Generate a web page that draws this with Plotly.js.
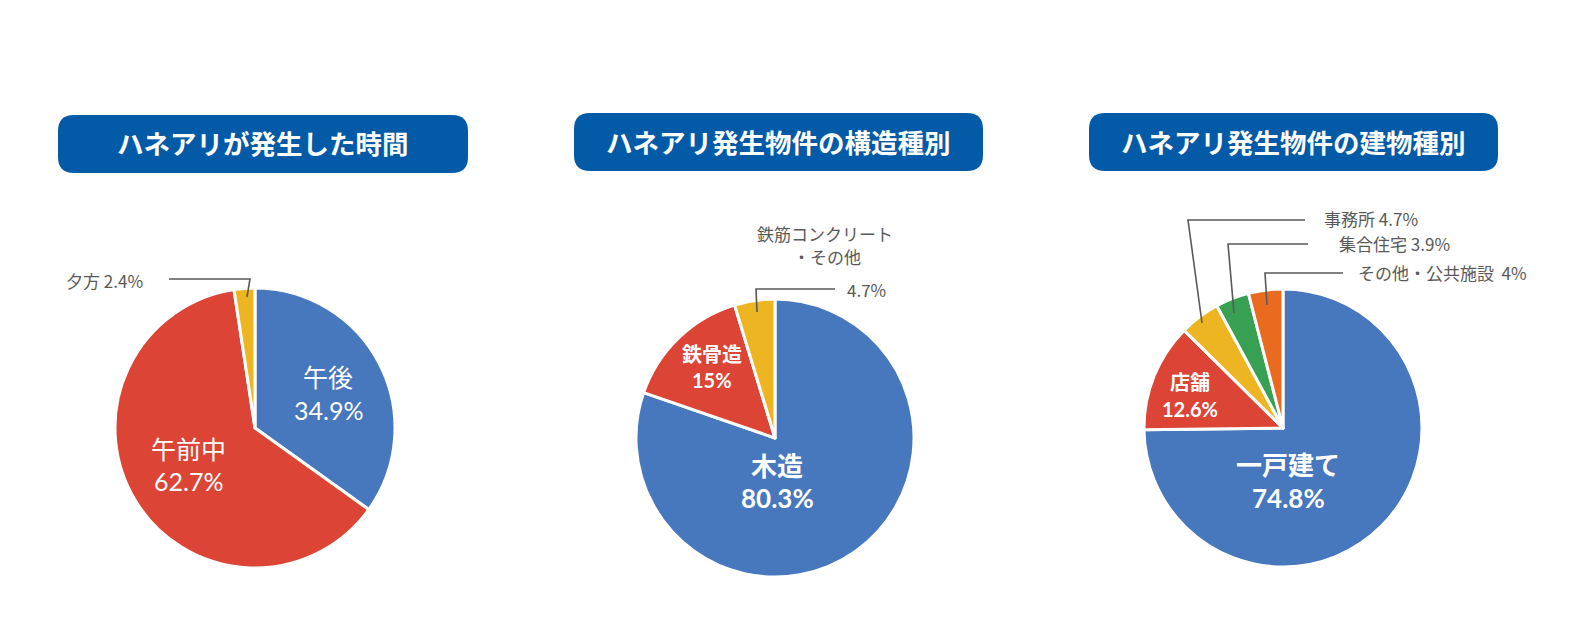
<!DOCTYPE html>
<html>
<head>
<meta charset="utf-8">
<script src="https://cdn.plot.ly/plotly-3.0.1.min.js"></script>
<style>html,body{margin:0;padding:0;background:#fff;}#chart{width:1575px;height:617px;}</style>
</head>
<body>
<div id="chart"></div>
<script>
// ---- data ----
const chartTitles = ["ハネアリが発生した時間", "ハネアリ発生物件の構造種別", "ハネアリ発生物件の建物種別"];

const timeLabels = ["午後", "午前中", "夕方"];
const timeValues = [34.9, 62.7, 2.4];

const structLabels = ["木造", "鉄骨造", "鉄筋コンクリート", "・その他"];
const structValues = [80.3, 15, 4.7];

const buildLabels = ["一戸建て", "店舗", "事務所", "集合住宅", "その他・公共施設"];
const buildValues = [74.8, 12.6, 4.7, 3.9, 4];

const BLUE = "#4777bc", RED = "#dc4435", YELLOW = "#eeb522", GREEN = "#37a053", ORANGE = "#ea6a1f";
const timeColors = [BLUE, RED, YELLOW];
const structColors = [BLUE, RED, YELLOW];
const buildColors = [BLUE, RED, YELLOW, GREEN, ORANGE];

// ---- layout helpers (pixel -> paper) ----
const W = 1575, H = 617;
const px = x => x / W;
const py = y => 1 - y / H;
function dom(cx, cy, r) {
  return { x: [px(cx - r), px(cx + r)], y: [py(cy + r), py(cy - r)] };
}
function pct(v) { return v + "%"; }

const FONT = '"Noto Sans CJK JP", "Noto Sans", sans-serif';
const LFONT = 'Lato, "Noto Sans CJK JP", sans-serif';
const pieBase = {
  type: "pie", sort: false, direction: "clockwise", rotation: 0,
  textinfo: "none", hoverinfo: "label+percent", showlegend: false
};

const structPieLabels = [structLabels[0], structLabels[1], structLabels[2] + structLabels[3]];

const data = [
  Object.assign({}, pieBase, { labels: timeLabels, values: timeValues,
    marker: { colors: timeColors, line: { color: "#fff", width: 3 } }, domain: dom(255, 428, 140) }),
  Object.assign({}, pieBase, { labels: structPieLabels, values: structValues,
    marker: { colors: structColors, line: { color: "#fff", width: 3 } }, domain: dom(775, 438, 139) }),
  Object.assign({}, pieBase, { labels: buildLabels, values: buildValues,
    marker: { colors: buildColors, line: { color: "#fff", width: 3 } }, domain: dom(1283, 428, 139) })
];

// rounded rectangle title boxes
function roundRect(x0, y0, x1, y1, r) {
  const p = (x, y) => px(x) + "," + py(y);
  return "M" + p(x0 + r, y0) + " L" + p(x1 - r, y0) + " Q" + p(x1, y0) + " " + p(x1, y0 + r) +
    " L" + p(x1, y1 - r) + " Q" + p(x1, y1) + " " + p(x1 - r, y1) +
    " L" + p(x0 + r, y1) + " Q" + p(x0, y1) + " " + p(x0, y1 - r) +
    " L" + p(x0, y0 + r) + " Q" + p(x0, y0) + " " + p(x0 + r, y0) + " Z";
}
const boxes = [[58, 115, 468, 173], [574, 113, 983, 171], [1089, 113, 1498, 171]];
const shapes = boxes.map(b => ({
  type: "path", xref: "paper", yref: "paper", path: roundRect(b[0], b[1], b[2], b[3], 16),
  fillcolor: "#035aa6", line: { width: 0 }
}));

// leader lines
function leader(pts) {
  return {
    type: "path", xref: "paper", yref: "paper",
    path: "M" + pts.map(p => px(p[0]) + "," + py(p[1])).join(" L"),
    line: { color: "#595959", width: 1.6 }
  };
}
shapes.push(leader([[169, 279], [250, 279], [247, 297]]));
shapes.push(leader([[835, 289], [756, 289], [757, 312]]));
shapes.push(leader([[1305, 220], [1188, 220], [1202, 323]]));
shapes.push(leader([[1308, 244], [1228, 244], [1234, 313]]));
shapes.push(leader([[1343, 273], [1265, 273], [1267, 305]]));

const annotations = [];
function ann(x, y, text, opts) {
  annotations.push(Object.assign({
    xref: "paper", yref: "paper", x: px(x), y: py(y), text: text, showarrow: false,
    xanchor: "center", yanchor: "middle", borderpad: 0,
    font: { family: FONT, size: 17, color: "#595959" }
  }, opts || {}));
}
// titles
boxes.forEach((b, i) => ann((b[0] + b[2]) / 2, (b[1] + b[3]) / 2 - 1, "<b>" + chartTitles[i] + "</b>",
  { font: { family: FONT, size: 26.5, color: "#ffffff" } }));

const wReg = { family: LFONT, size: 25, color: "#ffffff" };
const wBig = { family: LFONT, size: 26, color: "#ffffff" };
const wMid = { family: LFONT, size: 20, color: "#ffffff" };

// pie 1 inside labels (regular)
ann(328, 377, timeLabels[0], { font: wReg });
ann(328, 410, pct(timeValues[0]), { font: wReg });
ann(188, 449, timeLabels[1], { font: wReg });
ann(188, 481, pct(timeValues[1]), { font: wReg });
ann(65, 280, timeLabels[2] + " " + pct(timeValues[2]), { xanchor: "left" });

// pie 2
ann(777, 466, "<b>" + structLabels[0] + "</b>", { font: wBig });
ann(777, 498, "<b>" + pct(structValues[0]) + "</b>", { font: wBig });
ann(712, 354, "<b>" + structLabels[1] + "</b>", { font: wMid });
ann(712, 380, "<b>" + pct(structValues[1]) + "</b>", { font: wMid });
ann(825, 233, structLabels[2]);
ann(827, 256, structLabels[3]);
ann(846, 289, pct(structValues[2]), { xanchor: "left" });

// pie 3
ann(1288, 465, "<b>" + buildLabels[0] + "</b>", { font: wBig });
ann(1288, 498, "<b>" + pct(buildValues[0]) + "</b>", { font: wBig });
ann(1190, 382, "<b>" + buildLabels[1] + "</b>", { font: wMid });
ann(1190, 409, "<b>" + pct(buildValues[1]) + "</b>", { font: wMid });
ann(1323, 218, buildLabels[2] + " " + pct(buildValues[2]), { xanchor: "left" });
ann(1338, 243, buildLabels[3] + " " + pct(buildValues[3]), { xanchor: "left" });
ann(1357, 272, buildLabels[4] + "&nbsp; " + pct(buildValues[4]), { xanchor: "left" });

const layout = {
  width: W, height: H, margin: { l: 0, r: 0, t: 0, b: 0 },
  paper_bgcolor: "#ffffff", plot_bgcolor: "#ffffff",
  font: { family: FONT }, showlegend: false,
  shapes: shapes, annotations: annotations
};
Plotly.newPlot("chart", data, layout, { displayModeBar: false, staticPlot: true });
</script>
</body>
</html>
